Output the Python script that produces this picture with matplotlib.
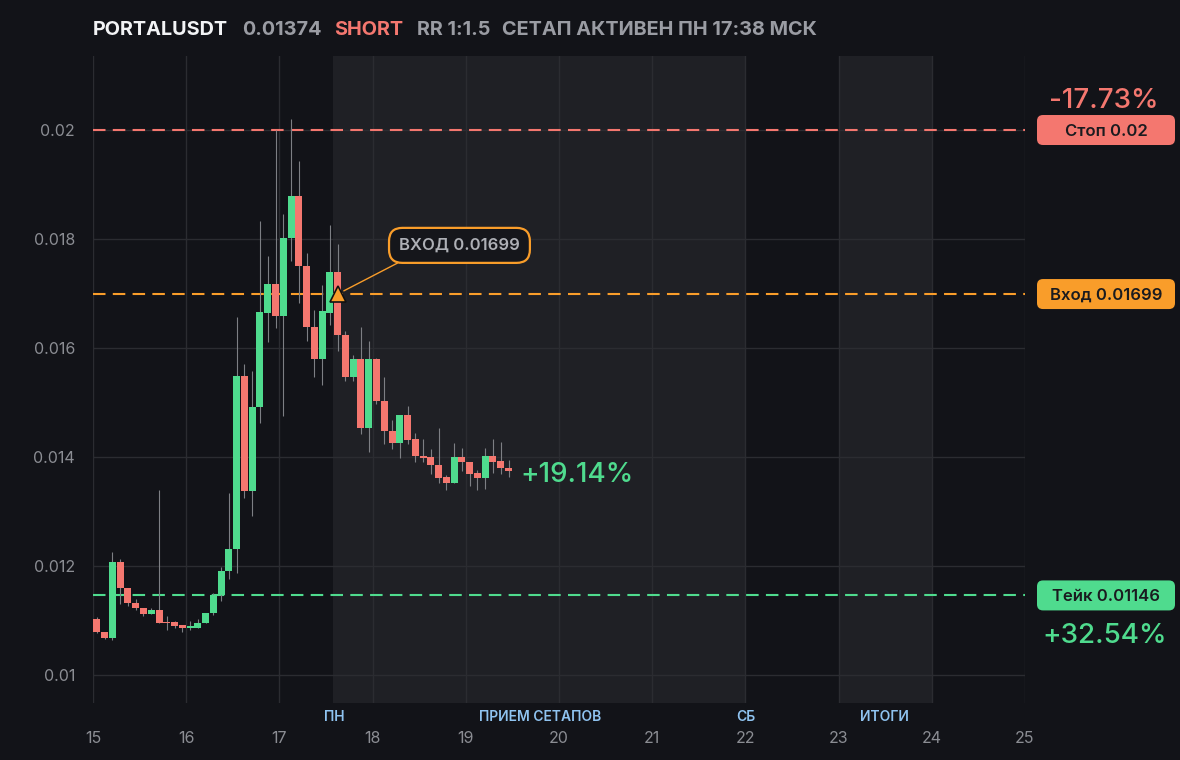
import numpy as np
import matplotlib
matplotlib.use("Agg")
import matplotlib.pyplot as plt
from matplotlib.patches import FancyBboxPatch
from matplotlib.transforms import IdentityTransform

plt.rcParams['font.family'] = ['Inter', 'DejaVu Sans']

# 2h candles, PORTALUSDT
opens = [0.01102, 0.01079, 0.01068, 0.01208, 0.01160, 0.01133, 0.01123, 0.01112, 0.01120, 0.01098,
         0.01098, 0.01091, 0.01086, 0.01087, 0.01095, 0.01114, 0.01146, 0.01190, 0.01231, 0.01549,
         0.01337, 0.01491, 0.01665, 0.01718, 0.01658, 0.01801, 0.01878, 0.01751, 0.01639, 0.01579,
         0.01665, 0.01740, 0.01624, 0.01546, 0.01579, 0.01453, 0.01580, 0.01503, 0.01448, 0.01425,
         0.01477, 0.01433, 0.01402, 0.01400, 0.01386, 0.01363, 0.01353, 0.01400, 0.01391, 0.01371,
         0.01362, 0.01402, 0.01393, 0.01380]
highs = [0.01107, 0.01079, 0.01226, 0.01212, 0.01160, 0.01140, 0.01123, 0.01123, 0.01340, 0.01109,
         0.01099, 0.01091, 0.01099, 0.01102, 0.01114, 0.01150, 0.01199, 0.01334, 0.01657, 0.01571,
         0.01558, 0.01833, 0.01769, 0.02000, 0.01846, 0.02021, 0.01944, 0.01775, 0.01669, 0.01716,
         0.01825, 0.01791, 0.01631, 0.01588, 0.01639, 0.01612, 0.01582, 0.01546, 0.01467, 0.01477,
         0.01494, 0.01444, 0.01433, 0.01415, 0.01454, 0.01367, 0.01426, 0.01416, 0.01391, 0.01377,
         0.01416, 0.01433, 0.01428, 0.01394]
lows = [0.01077, 0.01066, 0.01064, 0.01130, 0.01126, 0.01119, 0.01108, 0.01112, 0.01095, 0.01082,
        0.01086, 0.01078, 0.01083, 0.01087, 0.01095, 0.01110, 0.01135, 0.01177, 0.01187, 0.01324,
        0.01291, 0.01463, 0.01611, 0.01637, 0.01475, 0.01760, 0.01682, 0.01612, 0.01546, 0.01532,
        0.01642, 0.01594, 0.01539, 0.01539, 0.01443, 0.01410, 0.01497, 0.01423, 0.01414, 0.01399,
        0.01423, 0.01391, 0.01391, 0.01369, 0.01353, 0.01340, 0.01353, 0.01374, 0.01347, 0.01339,
        0.01342, 0.01371, 0.01369, 0.01363]
closes = [0.01078, 0.01068, 0.01208, 0.01159, 0.01132, 0.01123, 0.01112, 0.01120, 0.01096, 0.01095,
          0.01090, 0.01087, 0.01089, 0.01096, 0.01114, 0.01147, 0.01191, 0.01232, 0.01549, 0.01337,
          0.01492, 0.01666, 0.01718, 0.01658, 0.01802, 0.01878, 0.01750, 0.01638, 0.01579, 0.01667,
          0.01740, 0.01623, 0.01546, 0.01579, 0.01453, 0.01580, 0.01502, 0.01447, 0.01425, 0.01477,
          0.01432, 0.01401, 0.01399, 0.01385, 0.01362, 0.01353, 0.01400, 0.01390, 0.01369, 0.01362,
          0.01402, 0.01391, 0.01379, 0.01374]

stop = 0.02
entry = 0.01699
take = 0.01146
entry_time = 17.625
day_ticks = list(range(15, 26))
y_ticks = [0.01, 0.012, 0.014, 0.016, 0.018, 0.02]
y_labels = ["0.01", "0.012", "0.014", "0.016", "0.018", "0.02"]

BG = "#121318"
SHADE = "#1f2025"
GRID = "#2b2c31"
GREEN = "#4fdb8e"
RED = "#f4776f"
ORANGE = "#f99d2a"
GRAY = "#9a9ca3"

W, H = 1180, 760
fig = plt.figure(figsize=(W / 100, H / 100), dpi=100, facecolor=BG)
ax = fig.add_axes([93 / W, 1 - 703 / H, (1025 - 93) / W, (703 - 56) / H])
ax.set_facecolor(BG)
ax.set_xlim(15, 25)
ax.set_ylim(0.009486, 0.021358)
for s in ax.spines.values():
    s.set_visible(False)

# shaded windows
ax.axvspan(17.578, 22, color=SHADE, zorder=0, lw=0)
ax.axvspan(23, 24, color=SHADE, zorder=0, lw=0)

ax.set_xticks(day_ticks)
ax.set_xticklabels([str(d) for d in day_ticks])
ax.set_yticks(y_ticks)
ax.set_yticklabels(y_labels)
ax.tick_params(axis='x', length=0, pad=20, labelsize=11.5, labelcolor="#8b8d93")
ax.tick_params(axis='y', length=0, pad=13, labelsize=11.5, labelcolor="#8b8d93")
ax.grid(True, color=GRID, lw=1, zorder=0.5)
ax.set_axisbelow(True)

# candles
n = len(opens)
times = 15 + (np.arange(n) + 0.5) / 12
o = np.array(opens)
c = np.array(closes)
cols = [GREEN if cc >= oo else RED for oo, cc in zip(o, c)]
ax.vlines(times, lows, highs, color="#7d7f84", lw=0.8, zorder=3)
bottom = np.minimum(o, c)
height = np.maximum(np.abs(c - o), 0.00003)
ax.bar(times, height, bottom=bottom, width=0.9 / 12, color=cols, zorder=4, lw=0)

# levels
for lvl, col in [(stop, RED), (entry, ORANGE), (take, GREEN)]:
    ax.axhline(lvl, color=col, lw=1.5, dashes=(6, 3.5), zorder=2)

ax.plot(entry_time, entry, marker='^', ms=11, mfc=ORANGE, mec="#111111", mew=1.2, zorder=6)
ax.annotate("ВХОД 0.01699", xy=(entry_time, entry), xytext=(18.932, 0.017883),
            ha='center', va='center', fontsize=12, color="#aeb0b6", fontweight='semibold',
            bbox=dict(boxstyle='round,pad=0.6,rounding_size=0.8', fc="#15161b", ec=ORANGE, lw=1.6),
            arrowprops=dict(arrowstyle='-', color=ORANGE, lw=1, relpos=(0.15, 0),
                            shrinkA=0, shrinkB=5), zorder=7)

ax.text(19.59, 0.01367, "+19.14%", color=GREEN, fontsize=20, ha='left', va='center',
        fontweight='medium', zorder=7)

# phase labels under the axis
for xpos, lab in [(17.586, "ПН"), (19.796, "ПРИЕМ СЕТАПОВ"), (22.0, "СБ"), (23.49, "ИТОГИ")]:
    ax.text(xpos, -0.0212, lab, transform=ax.get_xaxis_transform(), ha='center', va='center',
            fontsize=10, color="#8fc3f0", fontweight='semibold')

# header
hy = 1 - 30 / H
fig.text(93 / W, hy, "PORTALUSDT", color="#f2f3f5", fontsize=14.3, fontweight='bold', va='center')
fig.text(242.6 / W, hy, "0.01374", color=GRAY, fontsize=14.3, fontweight='bold', va='center')
fig.text(334 / W, hy, "SHORT", color=RED, fontsize=14.3, fontweight='bold', va='center')
fig.text(417 / W, hy, "RR 1:1.5", color=GRAY, fontsize=14.3, fontweight='bold', va='center')
fig.text(502 / W, hy, "СЕТАП АКТИВЕН ПН 17:38 МСК", color=GRAY, fontsize=14.3,
         fontweight='bold', va='center')

# right side level tags
ident = IdentityTransform()
for lvl, col, lab in [(stop, RED, "Стоп 0.02"), (entry, ORANGE, "Вход 0.01699"), (take, GREEN, "Тейк 0.01146")]:
    yd = ax.transData.transform((20, lvl))[1]
    box = FancyBboxPatch((1037, yd - 15), 138, 30, boxstyle='round,pad=0,rounding_size=6',
                         fc=col, ec='none', transform=ident)
    fig.add_artist(box)
    fig.text(1106, yd - 1, lab, transform=ident, ha='center', va='center', fontsize=12,
             color="#1a1b1f", fontweight='semibold')

fig.text(1104 / W, 1 - 100.5 / H, "-17.73%", color=RED, fontsize=20, ha='center', va='center',
         fontweight='medium')
fig.text(1105 / W, 1 - 636 / H, "+32.54%", color=GREEN, fontsize=20, ha='center', va='center',
         fontweight='medium')

fig.savefig("out.png", dpi=100, facecolor=BG)
